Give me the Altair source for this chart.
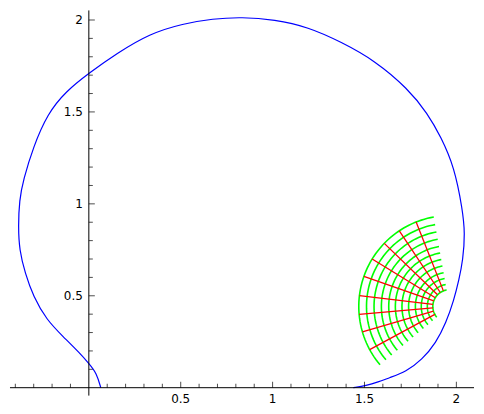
import altair as alt
import numpy as np
import pandas as pd

# ---- blue curve (bottom-left end -> around -> bottom-right end)
curve_x = [0.065, 0.042, 0.002, -0.049, -0.140, -0.230, -0.302, -0.347, -0.378, -0.384,
           -0.378, -0.357, -0.302, -0.225, -0.125, 0.002, 0.150, 0.331, 0.512, 0.675,
           0.831, 1.011, 1.193, 1.374, 1.554, 1.736, 1.844, 1.916, 1.989, 2.034,
           2.047, 2.036, 2.014, 1.987, 1.944, 1.889, 1.813, 1.726, 1.634, 1.575,
           1.509, 1.439]
curve_y = [0.000, 0.080, 0.130, 0.188, 0.278, 0.369, 0.496, 0.623, 0.749, 0.876,
           1.021, 1.129, 1.310, 1.490, 1.612, 1.712, 1.817, 1.926, 1.980, 2.007,
           2.016, 2.002, 1.962, 1.880, 1.781, 1.627, 1.491, 1.364, 1.201, 0.966,
           0.841, 0.695, 0.586, 0.478, 0.353, 0.244, 0.152, 0.087, 0.054, 0.031,
           0.011, 0.000]

# ---- polar grid patch (green arcs, red spokes)
fan_center_x = 1.963
fan_center_y = 0.442
arc_radii = [0.091, 0.121, 0.154, 0.186, 0.223, 0.259, 0.295, 0.331, 0.371, 0.411, 0.452, 0.494]
arc_start_deg = 100.0
arc_end_deg = 220.0
spoke_angles_deg = [111.6, 123.6, 136.0, 148.5, 160.7, 173.1, 185.0, 196.3, 208.4]

# ---- axes
x_major = [0.5, 1.0, 1.5, 2.0]
x_major_labels = ["0.5", "1", "1.5", "2"]
y_major = [0.5, 1.0, 1.5, 2.0]
y_major_labels = ["0.5", "1", "1.5", "2"]
x_minor = [-0.4, -0.3, -0.2, -0.1, 0.1, 0.2, 0.3, 0.4, 0.6, 0.7, 0.8, 0.9, 1.1, 1.2, 1.3, 1.4,
           1.6, 1.7, 1.8, 1.9]
y_minor = [0.1, 0.2, 0.3, 0.4, 0.6, 0.7, 0.8, 0.9, 1.1, 1.2, 1.3, 1.4, 1.6, 1.7, 1.8, 1.9]
x_range = [-0.429, 2.096]
y_range = [-0.043, 2.052]

PX = 184.2  # pixels per data unit (equal aspect)
W = round((x_range[1] - x_range[0]) * PX)
H = round((y_range[1] - y_range[0]) * PX)

xs = alt.Scale(domain=x_range, nice=False, zero=False)
ys = alt.Scale(domain=y_range, nice=False, zero=False)
FONT = "DejaVu Sans"

def X(f):
    return alt.X(f, type="quantitative", scale=xs, axis=None)

def Y(f):
    return alt.Y(f, type="quantitative", scale=ys, axis=None)

# data tables
curve_df = pd.DataFrame({"x": curve_x, "y": curve_y, "i": range(len(curve_x))})

arc_rows = []
th = np.radians(np.linspace(arc_start_deg, arc_end_deg, 60))
for k, r in enumerate(arc_radii):
    for j, t in enumerate(th):
        arc_rows.append({"x": fan_center_x + r * np.cos(t), "y": fan_center_y + r * np.sin(t),
                         "g": k, "i": j})
arc_df = pd.DataFrame(arc_rows)

spoke_rows = []
for k, a in enumerate(spoke_angles_deg):
    t = np.radians(a)
    spoke_rows.append({"x": fan_center_x + arc_radii[0] * np.cos(t),
                       "y": fan_center_y + arc_radii[0] * np.sin(t),
                       "x2": fan_center_x + arc_radii[-1] * np.cos(t),
                       "y2": fan_center_y + arc_radii[-1] * np.sin(t)})
spoke_df = pd.DataFrame(spoke_rows)

spine_df = pd.DataFrame({"xl": [x_range[0]], "xh": [x_range[1]], "yl": [y_range[0]],
                         "yh": [y_range[1]], "zero": [0.0]})
xmaj_df = pd.DataFrame({"v": x_major, "lab": x_major_labels, "zero": 0.0})
ymaj_df = pd.DataFrame({"v": y_major, "lab": y_major_labels, "zero": 0.0})
xmin_df = pd.DataFrame({"v": x_minor, "zero": 0.0})
ymin_df = pd.DataFrame({"v": y_minor, "zero": 0.0})

# layers
spine_x = alt.Chart(spine_df).mark_rule(color="black", strokeWidth=1).encode(
    x=X("xl"), x2="xh", y=Y("zero"))
spine_y = alt.Chart(spine_df).mark_rule(color="black", strokeWidth=1).encode(
    x=X("zero"), y=Y("yl"), y2="yh")

xmaj_ticks = alt.Chart(xmaj_df).mark_tick(orient="vertical", size=6, thickness=1,
                                          yOffset=-3, color="black").encode(x=X("v"), y=Y("zero"))
xmin_ticks = alt.Chart(xmin_df).mark_tick(orient="vertical", size=4, thickness=1,
                                          yOffset=-2, color="black").encode(x=X("v"), y=Y("zero"))
ymaj_ticks = alt.Chart(ymaj_df).mark_tick(orient="horizontal", size=6, thickness=1,
                                          xOffset=3, color="black").encode(x=X("zero"), y=Y("v"))
ymin_ticks = alt.Chart(ymin_df).mark_tick(orient="horizontal", size=4, thickness=1,
                                          xOffset=2, color="black").encode(x=X("zero"), y=Y("v"))

xlabels = alt.Chart(xmaj_df).mark_text(font=FONT, fontSize=12, dy=11, baseline="middle",
                                       align="center", color="black").encode(
    x=X("v"), y=Y("zero"), text="lab:N")
ylabels = alt.Chart(ymaj_df).mark_text(font=FONT, fontSize=12, dx=-6, baseline="middle",
                                       align="right", color="black").encode(
    x=X("zero"), y=Y("v"), text="lab:N")

curve = alt.Chart(curve_df).mark_line(color="#0000ff", strokeWidth=1.2,
                                      interpolate="basis").encode(
    x=X("x"), y=Y("y"), order="i:Q")
arcs = alt.Chart(arc_df).mark_line(color="#00ff00", strokeWidth=1.6).encode(
    x=X("x"), y=Y("y"), detail="g:N", order="i:Q")
spokes = alt.Chart(spoke_df).mark_rule(color="#ff0000", strokeWidth=1.3).encode(
    x=X("x"), y=Y("y"), x2="x2", y2="y2")

chart = alt.layer(
    arcs, spokes, curve,
    spine_x, spine_y, xmaj_ticks, xmin_ticks, ymaj_ticks, ymin_ticks, xlabels, ylabels
).properties(
    width=W, height=H,
    autosize=alt.AutoSizeParams(type="none"),
    padding={"left": 2, "top": 2, "right": 2, "bottom": 20},
).configure_view(stroke=None)

chart.save("out.html", embed_options={"renderer": "svg", "actions": False})
